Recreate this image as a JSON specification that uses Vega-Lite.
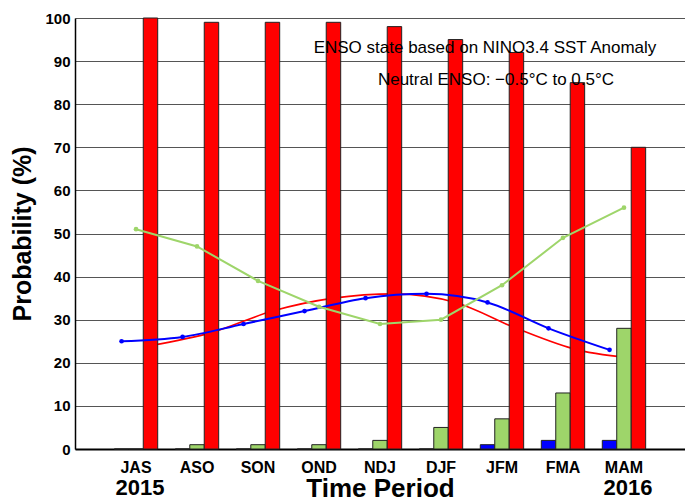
{
  "$schema": "https://vega.github.io/schema/vega-lite/v6.json",
  "width": 610,
  "height": 431,
  "autosize": {"type": "none"},
  "padding": {"left": 75, "top": 18, "right": 0, "bottom": 49},
  "background": "white",
  "config": {"view": {"stroke": null}, "font": "Liberation Sans"},
  "datasets": {
    "bars": [
      {"season": "JAS", "state": "La Niña", "prob": 0},
      {"season": "JAS", "state": "Neutral", "prob": 0},
      {"season": "JAS", "state": "El Niño", "prob": 100},
      {"season": "ASO", "state": "La Niña", "prob": 0},
      {"season": "ASO", "state": "Neutral", "prob": 1},
      {"season": "ASO", "state": "El Niño", "prob": 99},
      {"season": "SON", "state": "La Niña", "prob": 0},
      {"season": "SON", "state": "Neutral", "prob": 1},
      {"season": "SON", "state": "El Niño", "prob": 99},
      {"season": "OND", "state": "La Niña", "prob": 0},
      {"season": "OND", "state": "Neutral", "prob": 1},
      {"season": "OND", "state": "El Niño", "prob": 99},
      {"season": "NDJ", "state": "La Niña", "prob": 0},
      {"season": "NDJ", "state": "Neutral", "prob": 2},
      {"season": "NDJ", "state": "El Niño", "prob": 98},
      {"season": "DJF", "state": "La Niña", "prob": 0},
      {"season": "DJF", "state": "Neutral", "prob": 5},
      {"season": "DJF", "state": "El Niño", "prob": 95},
      {"season": "JFM", "state": "La Niña", "prob": 1},
      {"season": "JFM", "state": "Neutral", "prob": 7},
      {"season": "JFM", "state": "El Niño", "prob": 92},
      {"season": "FMA", "state": "La Niña", "prob": 2},
      {"season": "FMA", "state": "Neutral", "prob": 13},
      {"season": "FMA", "state": "El Niño", "prob": 85},
      {"season": "MAM", "state": "La Niña", "prob": 2},
      {"season": "MAM", "state": "Neutral", "prob": 28},
      {"season": "MAM", "state": "El Niño", "prob": 70}
    ],
    "clim": [
      {"season": "JAS", "lanina": 25, "neutral": 51, "elnino": 24},
      {"season": "ASO", "lanina": 26, "neutral": 47, "elnino": 27},
      {"season": "SON", "lanina": 29, "neutral": 39, "elnino": 32},
      {"season": "OND", "lanina": 32, "neutral": 33, "elnino": 35},
      {"season": "NDJ", "lanina": 35, "neutral": 29, "elnino": 36},
      {"season": "DJF", "lanina": 36, "neutral": 30, "elnino": 34},
      {"season": "JFM", "lanina": 34, "neutral": 38, "elnino": 28},
      {"season": "FMA", "lanina": 28, "neutral": 49, "elnino": 23},
      {"season": "MAM", "lanina": 23, "neutral": 56, "elnino": 21}
    ],
    "years": [
      {"season": "JAS", "label": "2015"},
      {"season": "MAM", "label": "2016"}
    ]
  },
  "encoding": {
    "x": {
      "field": "season",
      "type": "nominal",
      "sort": null,
      "scale": {
        "type": "band",
        "domain": ["JAS", "ASO", "SON", "OND", "NDJ", "DJF", "JFM", "FMA", "MAM"],
        "paddingInner": 0.289,
        "paddingOuter": 0.645
      },
      "axis": {
        "title": "Time Period",
        "labelAngle": 0,
        "labelFontSize": 16,
        "labelFontWeight": "bold",
        "labelColor": "black",
        "labelPadding": 10,
        "ticks": false,
        "domainColor": "black",
        "domainWidth": 2,
        "titleFontSize": 26,
        "titleFontWeight": "bold",
        "titleColor": "black",
        "titlePadding": 0
      }
    }
  },
  "layer": [
    {
      "data": {"name": "clim"},
      "mark": {"type": "line", "color": "#ff0000", "strokeWidth": 1.6, "interpolate": "monotone"},
      "encoding": {
        "x": {"field": "season", "type": "nominal", "sort": null, "bandPosition": 0.833},
        "y": {
          "field": "elnino",
          "type": "quantitative",
          "scale": {"domain": [0, 100], "nice": false},
          "axis": {
            "title": "Probability (%)",
            "values": [0, 10, 20, 30, 40, 50, 60, 70, 80, 90, 100],
            "grid": true,
            "gridColor": "#555555",
            "gridWidth": 1,
            "ticks": false,
            "domainColor": "black",
            "domainWidth": 1.5,
            "labelFontSize": 15,
            "labelFontWeight": "bold",
            "labelColor": "black",
            "labelPadding": 5,
            "titleFontSize": 25,
            "titleFontWeight": "bold",
            "titleColor": "black",
            "titlePadding": 9
          }
        }
      }
    },
    {
      "data": {"name": "bars"},
      "mark": {"type": "bar", "stroke": "#222222", "strokeWidth": 1},
      "encoding": {
        "xOffset": {
          "field": "state",
          "type": "nominal",
          "scale": {"domain": ["La Niña", "Neutral", "El Niño"], "paddingInner": 0, "paddingOuter": 0}
        },
        "y": {"field": "prob", "type": "quantitative"},
        "color": {
          "field": "state",
          "type": "nominal",
          "scale": {"domain": ["La Niña", "Neutral", "El Niño"], "range": ["#0000ff", "#9ed56a", "#ff0000"]},
          "legend": null
        }
      }
    },
    {
      "data": {"name": "clim"},
      "mark": {"type": "line", "color": "#0000ff", "strokeWidth": 2, "interpolate": "monotone", "point": {"filled": true, "size": 22, "color": "#0000ff"}},
      "encoding": {
        "x": {"field": "season", "type": "nominal", "sort": null, "bandPosition": 0.167},
        "y": {"field": "lanina", "type": "quantitative"}
      }
    },
    {
      "data": {"name": "clim"},
      "mark": {"type": "line", "color": "#9ed56a", "strokeWidth": 2, "point": {"filled": true, "size": 22, "color": "#9ed56a"}},
      "encoding": {
        "x": {"field": "season", "type": "nominal", "sort": null, "bandPosition": 0.5},
        "y": {"field": "neutral", "type": "quantitative"}
      }
    },
    {
      "data": {"name": "years"},
      "mark": {"type": "text", "fontSize": 22, "fontWeight": "bold", "color": "black", "baseline": "alphabetic", "align": "center", "dx": 4},
      "encoding": {
        "x": {"field": "season", "type": "nominal", "sort": null},
        "y": {"datum": -10.7, "type": "quantitative"},
        "text": {"field": "label"}
      }
    },
    {
      "data": {"values": [{"season": "DJF", "label": "ENSO state based on NINO3.4 SST Anomaly"}]},
      "mark": {"type": "text", "fontSize": 17, "color": "black", "baseline": "alphabetic", "align": "center", "dx": 44},
      "encoding": {
        "x": {"field": "season", "type": "nominal", "sort": null},
        "y": {"datum": 91.8, "type": "quantitative"},
        "text": {"field": "label"}
      }
    },
    {
      "data": {"values": [{"season": "JFM", "label": "Neutral ENSO: −0.5°C to 0.5°C"}]},
      "mark": {"type": "text", "fontSize": 17, "color": "black", "baseline": "alphabetic", "align": "center", "dx": -6},
      "encoding": {
        "x": {"field": "season", "type": "nominal", "sort": null},
        "y": {"datum": 84.5, "type": "quantitative"},
        "text": {"field": "label"}
      }
    }
  ]
}
